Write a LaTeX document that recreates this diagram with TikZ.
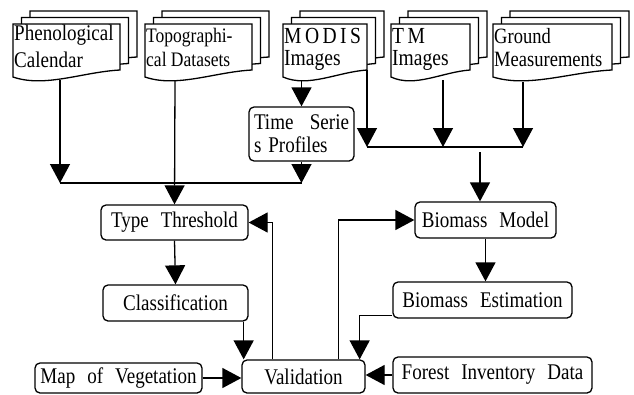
\documentclass[tikz,border=0pt]{standalone}
\usepackage{fontspec}
\setmainfont{Liberation Serif}[FakeStretch=0.85]
\usetikzlibrary{calc,arrows.meta}

\newcommand\boxfont{\fontsize{22.4}{27}\selectfont\spaceskip=12pt plus 2pt\relax}

\tikzset{
  box/.style={draw, line width=1.3pt, rounded corners=5pt, inner sep=0pt,
    font=\boxfont},
  doc/.style={draw, line width=1.3pt, fill=white},
  doctext/.style={anchor=north west, inner sep=0pt, align=left,
    font=\fontsize{22.4}{28}\selectfont},
  flow/.style={line width=1.3pt, -{Triangle[width=20pt,length=19pt]}},
  link/.style={line width=1.3pt},
}

\begin{document}
\begin{tikzpicture}[x=1pt,y=-1pt]
\useasboundingbox (0,0) rectangle (634,394);

% stacks of documents, left and right edge of the front page
\foreach \xa/\xb in {13/120,145/252,283/367,391/470,493/612}{
  \pgfmathsetmacro\ca{\xb-0.35*(\xb-\xa)}
  \pgfmathsetmacro\cb{\xa+0.3*(\xb-\xa)}
  \foreach \k in {2,1,0}
    \draw[doc,shift={(8.5*\k,-6.5*\k)}] (\xa,24) -- (\xb,24) -- (\xb,70)
      .. controls (\ca,72) and (\cb,88) .. (\xa,77) -- cycle;
}

\node[doctext,font=\fontsize{22.4}{27}\selectfont] (phen) at (14,25) {Phenological\\Calendar};
\node[doctext,font=\fontsize{20.6}{24}\selectfont] (topo) at (146,28) {Topographi-\\cal Datasets};
\node[doctext,font=\fontsize{23}{22}\selectfont] (modis) at (284,28) {{\addfontfeature{LetterSpace=15}MODIS}\\Images};
\node[doctext,font=\fontsize{23}{22}\selectfont] (tm) at (392,28) {{\addfontfeature{LetterSpace=15}TM}\\Images};
\node[doctext,font=\fontsize{21.8}{23}\selectfont] (ground) at (494,28) {Ground\\Measurements};

% process boxes
\node[box,minimum width=105pt,minimum height=54pt,text width=95pt,align=left,
  font=\fontsize{22.4}{23}\selectfont] (tseries) at (301.5,134) {Time\hfill Serie\\s\hspace{7pt}Profiles};
\node[box,minimum width=147pt,minimum height=35pt] (typeth) at (174.5,222.5) {Type Threshold};
\node[box,minimum width=145pt,minimum height=36pt] (classif) at (175.5,303) {Classification};
\node[box,minimum width=123pt,minimum height=33pt] (valid) at (303.5,376.5) {Validation};
\node[box,minimum width=167pt,minimum height=30pt] (mapveg) at (118.5,378) {Map of Vegetation};
\node[box,minimum width=141pt,minimum height=36pt] (bmodel) at (485.5,220) {Biomass Model};
\node[box,minimum width=179pt,minimum height=36pt] (bestim) at (482.5,300) {Biomass Estimation};
\node[box,minimum width=199pt,minimum height=36pt] (forest) at (492.5,375) {Forest Inventory Data};

% free ends below the documents and the joins
\coordinate (phenout) at (60,80);
\coordinate (topoout) at (175,81);
\coordinate (modisout) at (301.5,80);
\coordinate (modisside) at (367,70);
\coordinate (tmout) at (443,80);
\coordinate (groundout) at (523,82);
\coordinate (joinA) at (60,183);
\coordinate (joinB) at (367,147);
\coordinate (modelin) at (480,152);
\coordinate (classout) at ($(classif.south east)+(-5,0)$);

\draw[flow] (phenout) -- (joinA);
\draw[link] (joinA) -- (tseries.south |- joinA);
\draw[flow] (modisout) -- (tseries.north);
\draw[flow] (tseries.south) -- (tseries.south |- joinA);
\draw[flow] (topoout) -- (typeth.north);

\draw[flow] (modisside) -- (joinB);
\draw[link] (joinB) -- (groundout |- joinB);
\draw[flow] (tmout) -- (tmout |- joinB);
\draw[flow] (groundout) -- (groundout |- joinB);
\draw[flow] (modelin) -- (modelin |- bmodel.north);

\draw[flow] (typeth.south) -- (classif.north);
\draw[flow] (classout) -- (classout |- valid.north);
\draw[flow] (bmodel.south) -- (bmodel.south |- bestim.north);
\draw[flow] ($(bestim.south west)+(0,-3)$) -| ($(valid.north east)+(-6,0)$);
\draw[flow] ($(valid.north west)+(31,0)$) |- (typeth.east);
\draw[flow] ($(valid.north west)+(97,0)$) |- (bmodel.west);
\draw[flow] (mapveg.east) -- (valid.west |- mapveg.east);
\draw[flow] (forest.west) -- (valid.east |- forest.west);

\end{tikzpicture}
\end{document}
